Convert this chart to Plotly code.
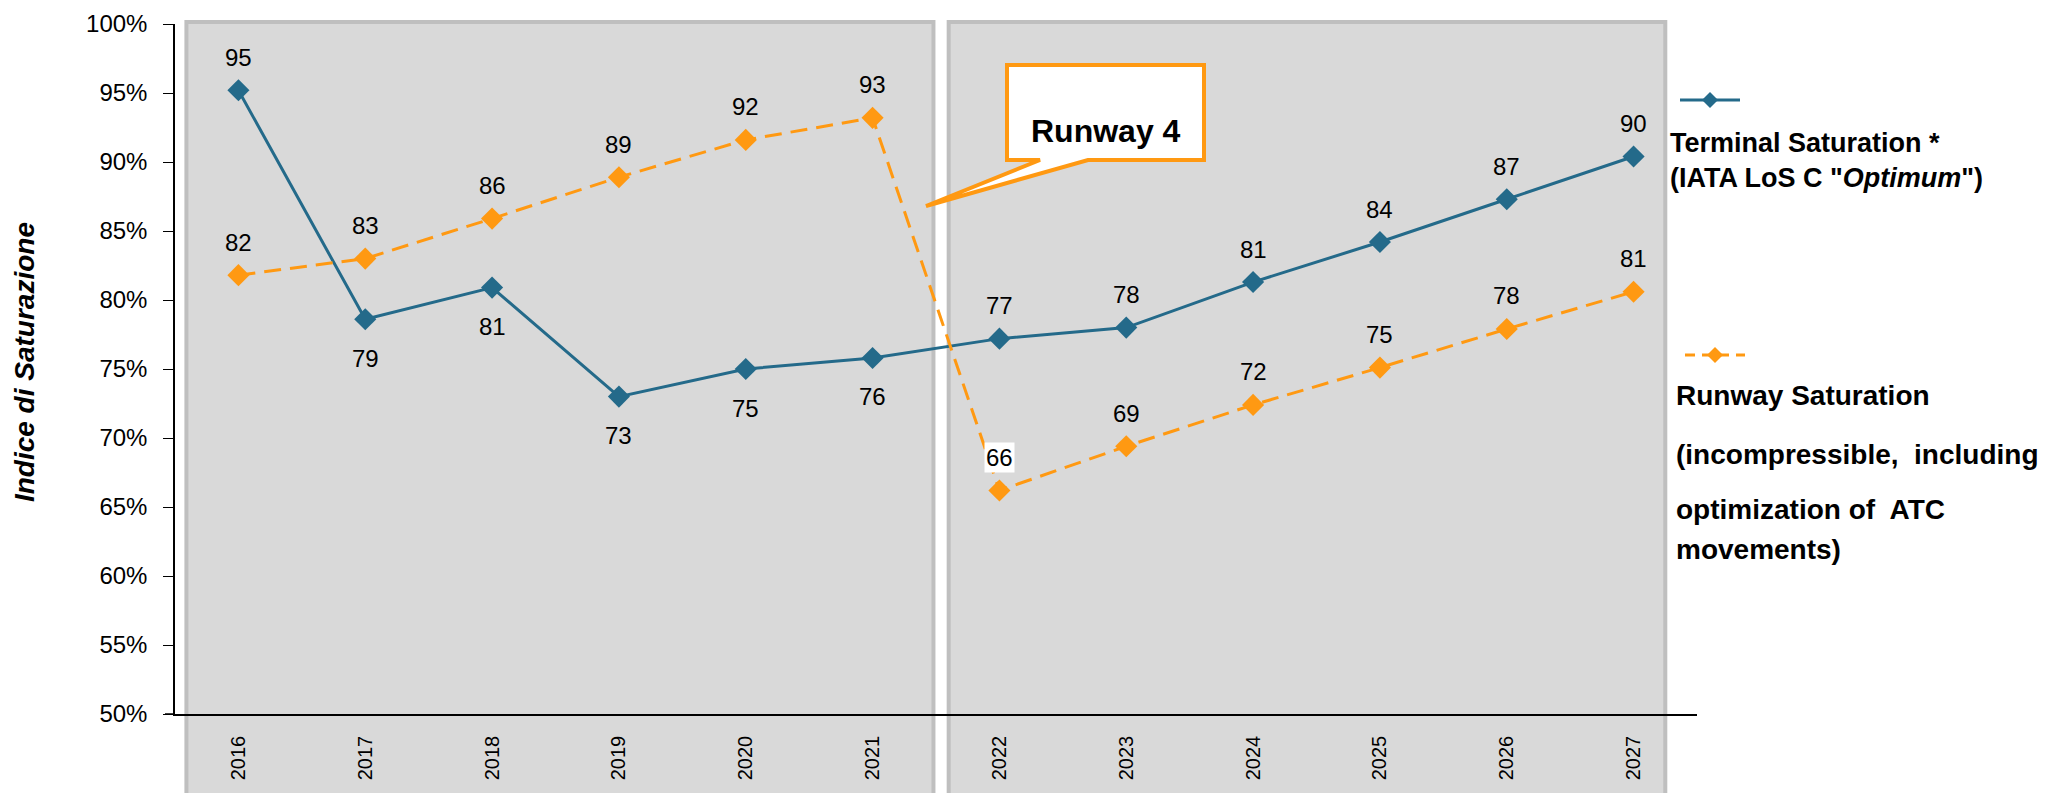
import plotly.graph_objects as go

years = ["2016", "2017", "2018", "2019", "2020", "2021",
         "2022", "2023", "2024", "2025", "2026", "2027"]
terminal = [95.2, 78.6, 80.9, 73.0, 75.0, 75.8, 77.2, 78.0, 81.3, 84.2, 87.3, 90.4]
runway = [81.8, 83.0, 85.9, 88.9, 91.6, 93.2, 66.2, 69.4, 72.4, 75.1, 77.9, 80.6]
terminal_labels = ["95", "79", "81", "73", "75", "76", "77", "78", "81", "84", "87", "90"]
runway_labels = ["82", "83", "86", "89", "92", "93", "66", "69", "72", "75", "78", "81"]
terminal_label_pos = ["above", "below", "below", "below", "below", "below",
                      "above", "above", "above", "above", "above", "above"]
y_ticks = [50, 55, 60, 65, 70, 75, 80, 85, 90, 95, 100]
y_tick_text = [f"{v}%" for v in y_ticks]

BLUE = "#246A8A"
ORANGE = "#FF9912"
FONT = "Liberation Sans, Arial, sans-serif"

L, R, T, B = 167, 1689, 16, 706
W, H = 2049, 793


def px(xr):
    return (xr - L) / (R - L)


def py(yr):
    return (B - yr) / (B - T)


fig = go.Figure()
fig.add_trace(go.Scatter(
    x=years, y=terminal, mode="lines+markers", name="Terminal Saturation",
    line=dict(color=BLUE, width=3),
    marker=dict(symbol="diamond", size=17, color=BLUE),
    showlegend=False, cliponaxis=False))
fig.add_trace(go.Scatter(
    x=years, y=runway, mode="lines+markers", name="Runway Saturation",
    line=dict(color=ORANGE, width=3, dash="17px,9px"),
    marker=dict(symbol="diamond", size=17, color=ORANGE),
    showlegend=False, cliponaxis=False))

annotations = []
for i, (y, t, p) in enumerate(zip(terminal, terminal_labels, terminal_label_pos)):
    annotations.append(dict(xref="x", yref="y", x=i, y=y, text=t, showarrow=False,
                            yshift=33 if p == "above" else -39,
                            font=dict(size=24, color="black", family=FONT)))
for i, (y, t) in enumerate(zip(runway, runway_labels)):
    a = dict(xref="x", yref="y", x=i, y=y, text=t, showarrow=False, yshift=33,
             font=dict(size=24, color="black", family=FONT))
    if years[i] == "2022":
        a.update(bgcolor="white", borderpad=1)
    annotations.append(a)

# y axis title
annotations.append(dict(xref="paper", yref="paper", x=px(16), y=0.51,
                        xanchor="center", yanchor="middle",
                        text="<b><i>Indice di Saturazione</i></b>", textangle=-90,
                        showarrow=False, font=dict(size=28, color="black", family=FONT)))

# callout text
annotations.append(dict(xref="paper", yref="paper", x=px(1098), y=py(103),
                        text="<b>Runway 4</b>", showarrow=False,
                        font=dict(size=32, color="black", family=FONT)))


def leg(y_px, text, x_px, size):
    return dict(xref="paper", yref="paper", x=px(x_px), y=py(y_px), text=text,
                showarrow=False, xanchor="left", yanchor="middle", align="left",
                font=dict(size=size, color="black", family=FONT))


annotations += [
    leg(135, "<b>Terminal Saturation *</b>", 1660, 27),
    leg(170, "<b>(IATA LoS C \"<i>Optimum</i>\")</b>", 1660, 27),
    leg(387, "<b>Runway Saturation</b>", 1666, 28),
    leg(446, "<b>(incompressible,&nbsp; including</b>", 1666, 28),
    leg(502, "<b>optimization of&nbsp; ATC</b>", 1666, 28),
    leg(541, "<b>movements)</b>", 1666, 28),
]

shapes = []
# grey panels
for x0, x1 in [(-0.41, 5.48), (5.60, 11.25)]:
    shapes.append(dict(type="rect", xref="x", yref="paper", x0=x0, x1=x1,
                       y0=py(790), y1=py(14), fillcolor="#D9D9D9",
                       line=dict(color="#BFBFBF", width=4), layer="below"))

# x axis line overshoot to the left of the y axis
shapes.append(dict(type="line", xref="paper", yref="paper", x0=px(157), x1=0,
                   y0=0, y1=0, line=dict(color="black", width=1.5)))

# callout bubble
l, r, t, b = px(999), px(1196), py(57), py(152)
b1, b2 = px(1032), px(1080)
tx, ty = px(918), py(198)
path = (f"M {l},{t} L {r},{t} L {r},{b} L {b2},{b} L {tx},{ty} "
        f"L {b1},{b} L {l},{b} Z")
shapes.append(dict(type="path", xref="paper", yref="paper", path=path,
                   fillcolor="white", line=dict(color=ORANGE, width=4), layer="above"))


def diamond(xc, yc, color):
    dx = 8 / (R - L)
    dy = 8 / (B - T)
    x, y = px(xc), py(yc)
    return dict(type="path", xref="paper", yref="paper",
                path=f"M {x-dx},{y} L {x},{y+dy} L {x+dx},{y} L {x},{y-dy} Z",
                fillcolor=color, line=dict(color=color, width=0))


# legend samples
shapes.append(dict(type="line", xref="paper", yref="paper",
                   x0=px(1672), x1=px(1732), y0=py(92), y1=py(92),
                   line=dict(color=BLUE, width=3)))
shapes.append(diamond(1702, 92, BLUE))
shapes.append(dict(type="line", xref="paper", yref="paper",
                   x0=px(1677), x1=px(1737), y0=py(347), y1=py(347),
                   line=dict(color=ORANGE, width=3, dash="10px,7px")))
shapes.append(diamond(1707, 347, ORANGE))

fig.update_layout(
    width=W, height=H,
    margin=dict(l=L, r=W - R, t=T, b=H - B, autoexpand=False),
    paper_bgcolor="white", plot_bgcolor="white",
    font=dict(family=FONT, color="black"),
    annotations=annotations, shapes=shapes,
    xaxis=dict(type="category", categoryorder="array", categoryarray=years,
               range=[-0.5, 11.5], showline=True, linecolor="black", linewidth=1.5,
               showgrid=False, zeroline=False, ticks="", tickangle=-90,
               tickfont=dict(size=20, color="black", family=FONT),
               ticklabelstandoff=12, fixedrange=True),
    yaxis=dict(range=[50, 100], tickmode="array", tickvals=y_ticks, ticktext=y_tick_text,
               showline=True, linecolor="black", linewidth=1.5,
               showgrid=False, zeroline=False, ticks="outside", ticklen=10,
               tickcolor="black", tickwidth=1.2, ticklabelstandoff=11,
               tickfont=dict(size=24, color="black", family=FONT)),
)

fig.write_html("out.html")
